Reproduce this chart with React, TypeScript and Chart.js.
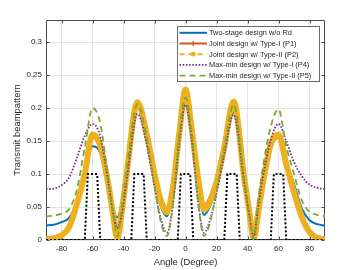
import React, { useEffect, useRef } from "react";
import { Chart, registerables } from "chart.js";

Chart.register(...registerables);

// ---------- data ----------
const angles = [-90, -85, -80, -75, -70, -65, -60, -55, -50, -47, -44, -41, -38, -31, -25, -20, -16, -12, -8, -4, 0, 4, 8, 12, 16, 20, 25, 31, 38, 41, 44, 47, 50, 55, 60, 65, 70, 75, 80, 85, 90];

const twoStage = [0.022, 0.023, 0.027, 0.034, 0.058, 0.1, 0.142, 0.132, 0.081, 0.05, 0.034, 0.06, 0.108, 0.206, 0.155, 0.095, 0.052, 0.036, 0.078, 0.158, 0.222, 0.162, 0.09, 0.038, 0.052, 0.082, 0.135, 0.193, 0.085, 0.042, 0.002, 0.042, 0.083, 0.14, 0.155, 0.12, 0.085, 0.048, 0.03, 0.024, 0.022];

const jointP1 = [0.003, 0.004, 0.008, 0.021, 0.056, 0.1, 0.157, 0.141, 0.087, 0.045, 0.004, 0.046, 0.1, 0.208, 0.16, 0.102, 0.064, 0.047, 0.084, 0.164, 0.226, 0.168, 0.098, 0.051, 0.064, 0.09, 0.142, 0.208, 0.092, 0.046, 0.003, 0.044, 0.087, 0.143, 0.157, 0.115, 0.072, 0.035, 0.013, 0.004, 0.003];

const jointP2 = [0.001, 0.002, 0.007, 0.02, 0.055, 0.1, 0.16, 0.143, 0.087, 0.043, 0.002, 0.045, 0.1, 0.209, 0.16, 0.1, 0.06, 0.042, 0.082, 0.162, 0.228, 0.168, 0.096, 0.046, 0.06, 0.088, 0.14, 0.21, 0.092, 0.045, 0.002, 0.043, 0.087, 0.145, 0.16, 0.115, 0.072, 0.035, 0.012, 0.003, 0.001];

const maxMinP4 = [0.077, 0.078, 0.083, 0.095, 0.125, 0.158, 0.176, 0.157, 0.09, 0.045, 0.018, 0.04, 0.09, 0.191, 0.145, 0.08, 0.033, 0.011, 0.055, 0.15, 0.205, 0.152, 0.06, 0.011, 0.032, 0.07, 0.13, 0.19, 0.085, 0.04, 0.005, 0.052, 0.096, 0.152, 0.176, 0.15, 0.118, 0.097, 0.084, 0.079, 0.077];

const maxMinP5 = [0.036, 0.037, 0.04, 0.047, 0.077, 0.14, 0.2, 0.177, 0.096, 0.046, 0.006, 0.05, 0.105, 0.206, 0.155, 0.082, 0.028, 0.006, 0.055, 0.16, 0.216, 0.162, 0.06, 0.006, 0.028, 0.075, 0.14, 0.205, 0.09, 0.042, 0.001, 0.061, 0.111, 0.172, 0.198, 0.142, 0.1, 0.06, 0.043, 0.038, 0.036];

const desiredAngles = [-90, -65, -63, -57, -55, -35, -33, -27, -25, -5, -3, 3, 5, 25, 27, 33, 35, 55, 57, 63, 65, 90];
const desiredValues = [0, 0, 0.1, 0.1, 0, 0, 0.1, 0.1, 0, 0, 0.1, 0.1, 0, 0, 0.1, 0.1, 0, 0, 0.1, 0.1, 0, 0];

const xTicks = [-80, -60, -40, -20, 0, 20, 40, 60, 80];
const xTickLabels = ["-80", "-60", "-40", "-20", "0", "20", "40", "60", "80"];
const yTicks = [0, 0.05, 0.1, 0.15, 0.2, 0.25, 0.3];
const yTickLabels = ["0", "0.05", "0.1", "0.15", "0.2", "0.25", "0.3"];

const seriesNames = [
  "Two-stage design w/o Rd",
  "Joint design w/ Type-I (P1)",
  "Joint design w/ Type-II (P2)",
  "Max-min design w/ Type-I (P4)",
  "Max-min design w/ Type-II (P5)",
];

// ---------- styles ----------
const FONT = "'Liberation Sans', Arial, Helvetica, sans-serif";
const TEXT = "#262626";
const BLUE = "#0072BD";
const ORANGE = "#D95319";
const YELLOW = "#EDB120";
const PURPLE = "#7E2F8E";
const GREEN = "#77AC30";

const pts = (xs: number[], ys: number[]) => xs.map((x, i) => ({ x, y: ys[i] }));

const framePlugin = {
  id: "matlabFrame",
  beforeDatasetsDraw(chart: any) {
    const { ctx, chartArea: a, scales } = chart;
    ctx.save();
    ctx.strokeStyle = "#4a4a4a";
    ctx.lineWidth = 1;
    ctx.beginPath();
    const L = Math.round(a.left) + 0.5, R = Math.round(a.right) - 0.5;
    const T = Math.round(a.top) + 0.5, B = Math.round(a.bottom) - 0.5;
    ctx.rect(L, T, R - L, B - T);
    const tl = 3;
    xTicks.forEach((v) => {
      const x = Math.round(scales.x.getPixelForValue(v)) + 0.5;
      ctx.moveTo(x, B); ctx.lineTo(x, B - tl);
      ctx.moveTo(x, T); ctx.lineTo(x, T + tl);
    });
    yTicks.forEach((v) => {
      const y = Math.round(scales.y.getPixelForValue(v)) + 0.5;
      ctx.moveTo(L, y); ctx.lineTo(L + tl, y);
      ctx.moveTo(R, y); ctx.lineTo(R - tl, y);
    });
    ctx.stroke();
    ctx.restore();
  },
};

const legendPlugin = {
  id: "matlabLegend",
  afterDraw(chart: any) {
    const ctx = chart.ctx;
    const bx = 177.5, by = 26.5, bw = 142, bh = 55;
    ctx.save();
    ctx.fillStyle = "#ffffff";
    ctx.fillRect(bx, by, bw, bh);
    ctx.strokeStyle = "#6a6a6a";
    ctx.lineWidth = 1;
    ctx.strokeRect(bx, by, bw, bh);
    const x0 = 179.5, x1 = 207, xm = (x0 + x1) / 2;
    const rowY = (i: number) => 32.8 + i * 10.7;
    const line = (i: number, color: string, w: number, dash: number[]) => {
      const y = rowY(i);
      ctx.beginPath();
      ctx.setLineDash(dash);
      ctx.strokeStyle = color;
      ctx.lineWidth = w;
      ctx.moveTo(x0, y);
      ctx.lineTo(x1, y);
      ctx.stroke();
      ctx.setLineDash([]);
    };
    line(0, BLUE, 2, []);
    line(1, ORANGE, 2, []);
    ctx.beginPath();
    ctx.strokeStyle = ORANGE;
    ctx.lineWidth = 1.2;
    ctx.moveTo(xm - 2.5, rowY(1)); ctx.lineTo(xm + 2.5, rowY(1));
    ctx.moveTo(xm, rowY(1) - 2.5); ctx.lineTo(xm, rowY(1) + 2.5);
    ctx.stroke();
    line(2, YELLOW, 2, [5, 4]);
    ctx.beginPath();
    ctx.fillStyle = YELLOW;
    ctx.arc(xm, rowY(2), 2.4, 0, Math.PI * 2);
    ctx.fill();
    line(3, PURPLE, 1.8, [1.6, 1.6]);
    line(4, GREEN, 1.8, [6, 4]);
    ctx.fillStyle = TEXT;
    ctx.font = `7.4px ${FONT}`;
    ctx.textBaseline = "middle";
    ctx.textAlign = "left";
    seriesNames.forEach((s, i) => ctx.fillText(s, 209, rowY(i) + 0.3));
    ctx.restore();
  },
};

export default function App() {
  const ref = useRef<HTMLCanvasElement | null>(null);
  useEffect(() => {
    if (!ref.current) return;
    const base = {
      pointRadius: 0,
      fill: false,
      cubicInterpolationMode: "monotone" as const,
    };
    const chart = new Chart(ref.current, {
      type: "line",
      data: {
        datasets: [
          { ...base, label: seriesNames[0], data: pts(angles, twoStage), borderColor: BLUE, borderWidth: 2, order: 5 },
          { ...base, label: seriesNames[1], data: pts(angles, jointP1), borderColor: ORANGE, borderWidth: 4, order: 4 },
          { ...base, label: seriesNames[2], data: pts(angles, jointP2), borderColor: YELLOW, borderWidth: 6, order: 3 },
          { ...base, label: seriesNames[3], data: pts(angles, maxMinP4), borderColor: PURPLE, borderWidth: 1.8, borderDash: [1.6, 1.6], order: 2 },
          { ...base, label: seriesNames[4], data: pts(angles, maxMinP5), borderColor: GREEN, borderWidth: 1.8, borderDash: [6, 4], order: 1 },
          { label: "Desired", data: pts(desiredAngles, desiredValues), borderColor: "#000000", borderWidth: 2, borderDash: [2, 2], pointRadius: 0, tension: 0, fill: false, order: 0 },
        ],
      },
      options: {
        responsive: false,
        animation: false,
        layout: { padding: { left: 0, top: 20, right: 35, bottom: 0 } },
        plugins: { legend: { display: false }, tooltip: { enabled: false } },
        scales: {
          x: {
            type: "linear",
            min: -90,
            max: 90,
            afterFit: (s: any) => { s.height = 30; },
            afterBuildTicks: (s: any) => { s.ticks = xTicks.map((v) => ({ value: v })); },
            ticks: {
              autoSkip: false,
              maxRotation: 0,
              padding: 4,
              color: TEXT,
              font: { family: FONT, size: 8 },
              callback: (_v: any, i: number) => xTickLabels[i],
            },
            grid: { color: "#e4e4e4", drawTicks: false, lineWidth: 1 },
            border: { display: false },
            title: { display: true, text: "Angle (Degree)", color: TEXT, font: { family: FONT, size: 9.4 }, padding: { top: 0, bottom: 2 } },
          },
          y: {
            type: "linear",
            min: 0,
            max: 0.3335,
            afterFit: (s: any) => { s.width = 46; },
            afterBuildTicks: (s: any) => { s.ticks = yTicks.map((v) => ({ value: v })); },
            ticks: {
              autoSkip: false,
              padding: 4,
              color: TEXT,
              font: { family: FONT, size: 8 },
              callback: (_v: any, i: number) => yTickLabels[i],
            },
            grid: { color: "#e4e4e4", drawTicks: false, lineWidth: 1 },
            border: { display: false },
            title: { display: true, text: "Transmit beampattern", color: TEXT, font: { family: FONT, size: 9.4 }, padding: { top: 12, bottom: 0 } },
          },
        },
      },
      plugins: [framePlugin, legendPlugin],
    });
    return () => chart.destroy();
  }, []);
  return (
    <div style={{ position: "fixed", left: 0, top: 0, width: 360, height: 270, background: "#fff" }}>
      <canvas ref={ref} width={360} height={270} style={{ display: "block", width: 360, height: 270 }} />
    </div>
  );
}
